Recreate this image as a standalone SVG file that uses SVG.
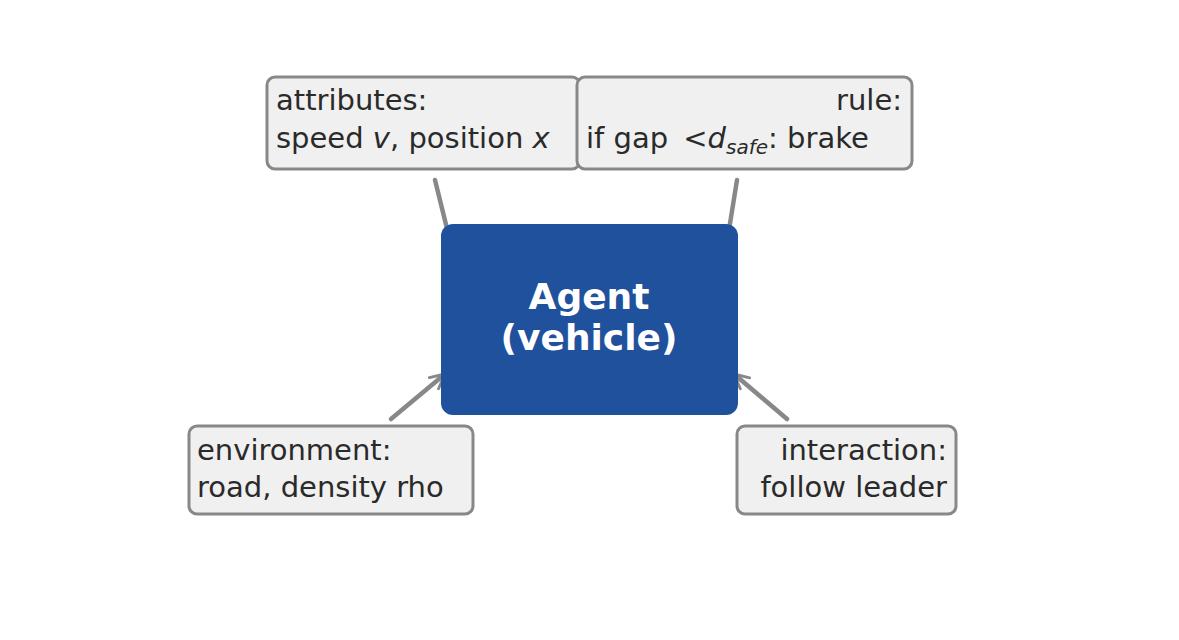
<svg xmlns="http://www.w3.org/2000/svg" width="1179" height="640" viewBox="0 0 1179 640">
<style>
.box{fill:#f0f0f0;stroke:#888;stroke-width:3}
.t{font-family:"DejaVu Sans",sans-serif;font-size:29px;fill:#2a2a2a}
.c{fill:none;stroke:#888;stroke-width:4.5;stroke-linecap:round}
</style>
<defs><marker id="a" viewBox="0 0 10 10" refX="9" refY="5" markerWidth="4" markerHeight="4" orient="auto" markerUnits="strokeWidth"><path d="M1 1L9 5L1 9" fill="none" stroke="#888" stroke-width="1.6" stroke-linecap="round" stroke-linejoin="round"/></marker></defs>
<rect width="1179" height="640" fill="#fff"/>
<g id="connectors">
<line class="c" x1="435" y1="180" x2="455" y2="261" marker-end="url(#a)"/>
<line class="c" x1="737" y1="180" x2="724" y2="261" marker-end="url(#a)"/>
<line class="c" x1="391" y1="419" x2="445" y2="374" marker-end="url(#a)"/>
<line class="c" x1="787" y1="419" x2="734" y2="374" marker-end="url(#a)"/>
</g>
<g id="agent"><rect x="441" y="224" width="297" height="191" rx="12" fill="#20519c"/>
<text x="589" y="309" text-anchor="middle" font-family="DejaVu Sans,sans-serif" font-weight="bold" font-size="36" fill="#fff">Agent</text>
<text x="589" y="350" text-anchor="middle" font-family="DejaVu Sans,sans-serif" font-weight="bold" font-size="36" fill="#fff">(vehicle)</text></g>
<g id="attributes"><rect class="box" x="267" y="77" width="313" height="92" rx="8"/>
<text class="t" x="276" y="110">attributes:</text>
<text class="t" x="276" y="148">speed <tspan font-style="italic">v</tspan>, position <tspan font-style="italic">x</tspan></text></g>
<g id="rule"><rect class="box" x="577" y="77" width="335" height="92" rx="8"/>
<text class="t" x="902" y="110" text-anchor="end">rule:</text>
<text class="t" x="586" y="148">if gap <tspan dx="6">&lt;</tspan><tspan font-style="italic">d</tspan><tspan font-style="italic" font-size="20" dy="6">safe</tspan><tspan dy="-6">: brake</tspan></text></g>
<g id="environment"><rect class="box" x="189" y="426" width="284" height="88" rx="8"/>
<text class="t" x="197" y="460">environment:</text>
<text class="t" x="197" y="497">road, density rho</text></g>
<g id="interaction"><rect class="box" x="737" y="426" width="219" height="88" rx="8"/>
<text class="t" x="947" y="460" text-anchor="end">interaction:</text>
<text class="t" x="947" y="497" text-anchor="end">follow leader</text></g>
</svg>
